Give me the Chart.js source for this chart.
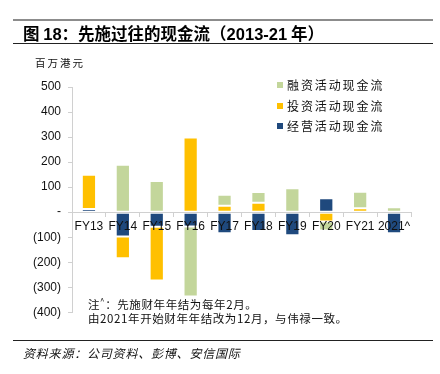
<!DOCTYPE html>
<html>
<head>
<meta charset="utf-8">
<script src="https://cdn.jsdelivr.net/npm/chart.js@4"></script>
<style>
  html, body { margin: 0; padding: 0; background: #fff; }
  #wrap { position: relative; width: 440px; height: 374px; overflow: hidden; font-family: "Noto Sans CJK SC", "Liberation Sans", sans-serif; }
  #c { position: absolute; left: 0; top: 0; }
  .abs { position: absolute; white-space: nowrap; }
  #topline { left: 13px; top: 19px; width: 420px; height: 2px; background: #8c8c8c; }
  #titleline { left: 13px; top: 43px; width: 420px; height: 1px; background: #222; }
  #bottomline { left: 13px; top: 340px; width: 420px; height: 1px; background: #222; }
  #title { left: 23px; top: 23px; font-size: 16.5px; font-weight: bold; color: #000; line-height: 20px; }
  #title .num { font-family: "Liberation Sans", Arial, sans-serif; font-weight: bold; }
  #unit { left: 35px; top: 56px; font-size: 10.5px; letter-spacing: 2px; color: #111; line-height: 14px; }
  .note { left: 88px; font-size: 11.5px; letter-spacing: 0.6px; color: #111; line-height: 14px; }
  #source { left: 23px; top: 345px; font-size: 12px; font-style: italic; letter-spacing: 0.8px; color: #111; line-height: 15px; }
  #legend { left: 277px; top: 77px; }
  .li { position: relative; height: 20.5px; font-size: 12px; letter-spacing: 1.9px; color: #111; line-height: 16px; }
  .sw { position: absolute; left: 0; top: 5px; width: 6px; height: 6px; }
  .lt { position: absolute; left: 10px; top: 0; }
</style>
</head>
<body>
<div id="wrap">
  <canvas id="c" width="440" height="374"></canvas>
  <div class="abs" id="topline"></div>
  <div class="abs" id="title">图 <span class="num">18</span>：先施过往的现金流（<span class="num">2013-21</span> 年）</div>
  <div class="abs" id="titleline"></div>
  <div class="abs" id="unit">百万港元</div>
  <div class="abs" id="legend"></div>
  <div class="abs note" style="top:294px">注<sup style="font-size:8px">^</sup>：先施财年年结为每年2月。</div>
  <div class="abs note" style="top:311px">由2021年开始财年年结改为12月，与伟禄一致。</div>
  <div class="abs" id="bottomline"></div>
  <div class="abs" id="source">资料来源：公司资料、彭博、安信国际</div>
</div>
<script>
const categories = ['FY13', 'FY14', 'FY15', 'FY16', 'FY17', 'FY18', 'FY19', 'FY20', 'FY21', '2021^'];
const operating = [13, -97, -58, -57, -84, -75, -92, 56, -9, -84];
const investing = [136, -87, -215, 298, 26, 38, -8, -37, 16, 0];
const financing = [5, 189, 125, -280, 44, 43, 96, -36, 66, 20];
const yTicks = [500, 400, 300, 200, 100, 0, -100, -200, -300, -400];
const seriesNames = ['经营活动现金流', '投资活动现金流', '融资活动现金流'];
const seriesColors = ['#1F497D', '#FFC000', '#C3D69B'];

const datasets = [operating, investing, financing].map((d, i) => ({
  label: seriesNames[i],
  data: d,
  backgroundColor: seriesColors[i],
  borderColor: 'rgba(255,255,255,0.45)',
  borderWidth: 1,
  borderSkipped: false,
  categoryPercentage: 1,
  barPercentage: 0.42
}));

const chart = new Chart(document.getElementById('c'), {
  type: 'bar',
  data: { labels: categories, datasets },
  options: {
    responsive: false,
    animation: false,
    layout: { padding: { top: 87, bottom: 61.7, left: 0, right: 29 } },
    plugins: { legend: { display: false }, tooltip: { enabled: false } },
    scales: {
      x: {
        stacked: true,
        position: { y: 0 },
        grid: { display: true, drawOnChartArea: false, offset: true, tickLength: 4, color: '#d0d0d0', z: 1 },
        border: { display: true, color: '#d0d0d0', width: 1, z: 1 },
        ticks: { z: 2, color: '#111', font: { family: 'Liberation Sans', size: 12 }, padding: 3, maxRotation: 0, autoSkip: false }
      },
      y: {
        stacked: true,
        min: Math.min(...yTicks),
        max: Math.max(...yTicks),
        afterFit: s => { s.width = 72; },
        afterBuildTicks: s => { s.ticks = yTicks.map(v => ({ value: v })); },
        grid: { display: true, drawOnChartArea: false, tickLength: 4, color: '#d0d0d0' },
        border: { display: true, color: '#d0d0d0', width: 1 },
        ticks: {
          color: '#111',
          font: { family: 'Liberation Sans', size: 12 },
          padding: 7,
          callback: v => v === 0 ? '-' : (v < 0 ? '(' + Math.abs(v) + ')' : String(v))
        }
      }
    }
  }
});

const legend = document.getElementById('legend');
chart.data.datasets.slice().reverse().forEach(ds => {
  const li = document.createElement('div');
  li.className = 'li';
  li.innerHTML = '<span class="sw" style="background:' + ds.backgroundColor + '"></span><span class="lt">' + ds.label + '</span>';
  legend.appendChild(li);
});
</script>
</body>
</html>
